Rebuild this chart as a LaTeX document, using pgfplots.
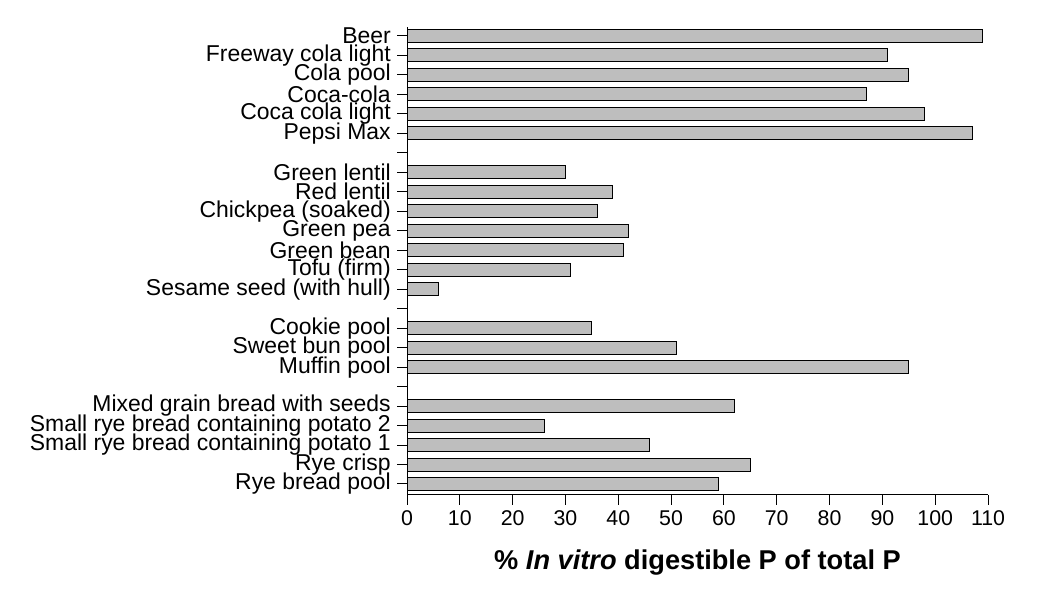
\documentclass[border=0pt]{standalone}
\usepackage{pgfplots}
\pgfplotsset{compat=1.18}
\usepackage{fontspec}
\setmainfont{Liberation Sans}
\definecolor{bargray}{RGB}{190,190,190}
\begin{document}
\begin{tikzpicture}
\path[use as bounding box] (0pt,0pt) rectangle (780.75pt,456.75pt);
\begin{axis}[
  at={(305.25pt,85.5pt)}, anchor=south west,
  scale only axis, width=435.75pt, height=351pt,
  xmin=0, xmax=110, ymin=0.435, ymax=24.46,
  axis lines=left,
  axis line style={-, line width=0.75pt, black},
  xtick={0,10,...,110}, ytick={1,...,24},
  yticklabels={Rye bread pool, Rye crisp, Small rye bread containing potato 1, Small rye bread containing potato 2, Mixed grain bread with seeds, {}, Muffin pool, Sweet bun pool, Cookie pool, {}, Sesame seed (with hull), Tofu (firm), Green bean, Green pea, Chickpea (soaked), Red lentil, Green lentil, {}, Pepsi Max, Coca cola light, Coca-cola, Cola pool, Freeway cola light, Beer},
  tick align=outside, major tick length=7.5pt,
  tick style={black, line width=0.75pt},
  /pgf/number format/assume math mode=true,
  yticklabel style={font=\fontsize{17.2}{17}\selectfont, inner sep=0pt, xshift=-4.5pt},
  xticklabel style={font=\fontsize{16}{18}\selectfont, inner sep=0pt, yshift=-4pt},
  xlabel={\fontsize{20.4}{24}\selectfont\bfseries \% \textit{In vitro} digestible P of total P},
  xlabel style={at={(axis description cs:0.5,0)}, anchor=base, yshift=-56.25pt},
  clip=false,
]
\addplot[xbar, bar width=9.75pt, fill=bargray, draw=black, line width=0.75pt] coordinates {
(59,1) (65,2) (46,3) (26,4) (62,5)
(95,7) (51,8) (35,9)
(6,11) (31,12) (41,13) (42,14) (36,15) (39,16) (30,17)
(107,19) (98,20) (87,21) (95,22) (91,23) (109,24)
};
\end{axis}
\end{tikzpicture}
\end{document}
